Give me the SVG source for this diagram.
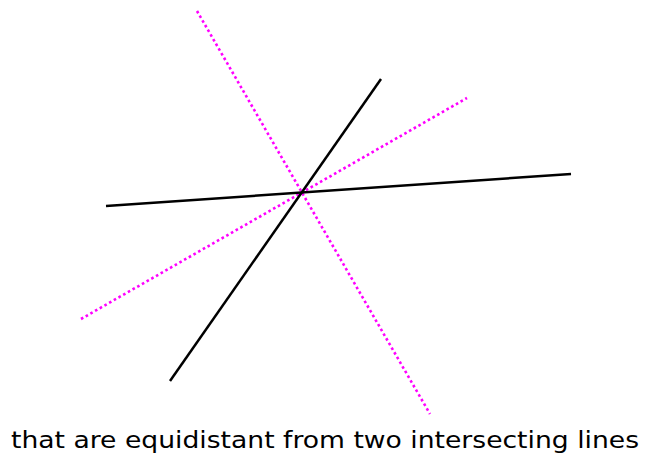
<svg xmlns="http://www.w3.org/2000/svg" width="651" height="460" viewBox="0 0 651 460">
<style>
.solid{stroke:#000;stroke-width:2.5;fill:none}
.dot{stroke:#ff00ff;stroke-width:2.6;stroke-dasharray:2.6 2.8;fill:none}
.lbl{font-family:"DejaVu Sans",Verdana,sans-serif;font-size:22.5px;fill:#000}
</style>
<rect width="651" height="460" fill="#fff"/>
<g id="connectors">
<line class="dot" x1="197" y1="11" x2="430" y2="414"/>
<line class="dot" x1="81" y1="319" x2="467" y2="98"/>
<line class="solid" x1="106" y1="206" x2="571" y2="174"/>
<line class="solid" x1="170" y1="381" x2="381" y2="79"/>
</g>
<text class="lbl" x="11" y="448" textLength="628" lengthAdjust="spacingAndGlyphs">that are equidistant from two intersecting lines</text>
</svg>
